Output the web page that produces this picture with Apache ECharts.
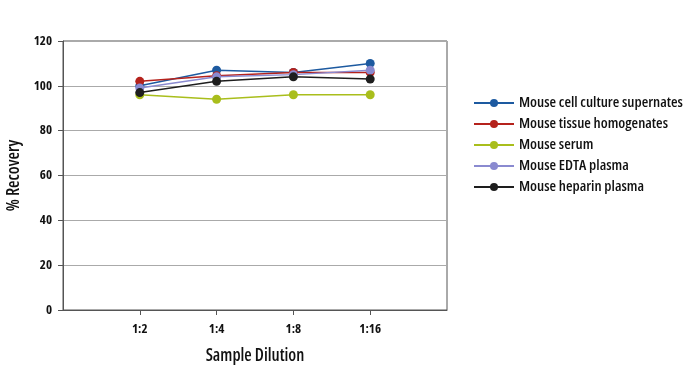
<!DOCTYPE html>
<html><head><meta charset="utf-8">
<script src="https://cdn.jsdelivr.net/npm/echarts@6/dist/echarts.min.js"></script>
<style>html,body{margin:0;padding:0;background:#fff}#c{width:694px;height:372px}</style>
</head><body><div id="c"></div>
<script>
const categories = ["", "1:2", "1:4", "1:8", "1:16", ""];
const seriesNames = ["Mouse cell culture supernates", "Mouse tissue homogenates", "Mouse serum", "Mouse EDTA plasma", "Mouse heparin plasma"];
const cellCulture = [null, 100, 107, 106, 110, null];
const tissue = [null, 102, 104.5, 106, 106, null];
const serum = [null, 96, 94, 96, 96, null];
const edta = [null, 99, 104, 105, 107, null];
const heparin = [null, 97, 102, 104, 103, null];
const yTicks = [0, 20, 40, 60, 80, 100, 120];
const colors = ["#1d5aa0", "#b5221c", "#a9be1c", "#8a8ad0", "#1e1e1e"];
const values = [cellCulture, tissue, serum, edta, heparin];
const font = "'Open Sans', sans-serif";
const W = '600 condensed';
const WB = 'bold condensed';
const chart = echarts.init(document.getElementById('c'));
chart.setOption({
  animation: false,
  color: colors,
  grid: {left: 63, right: 247, top: 41, bottom: 62, show: true, borderColor: '#555', borderWidth: 1, outerBoundsMode: 'none', containLabel: false},
  legend: {
    orient: 'vertical', left: 468, top: 90, itemGap: 5, itemWidth: 40, itemHeight: 10,
    textStyle: {fontFamily: font, fontSize: 15, fontWeight: W, color: '#111', lineHeight: 16},
    data: seriesNames
  },
  xAxis: {
    type: 'category', data: categories, boundaryGap: false,
    axisLine: {lineStyle: {color: '#555'}},
    axisTick: {show: true, length: 5, lineStyle: {color: '#555'}, interval: (i) => i > 0 && i < categories.length - 1},
    axisLabel: {fontFamily: font, fontSize: 13, fontWeight: WB, color: '#111', margin: 13, interval: 0},
    name: 'Sample Dilution', nameLocation: 'middle', nameGap: 38,
    nameTextStyle: {fontFamily: font, fontSize: 17, fontWeight: W, color: '#111'}
  },
  yAxis: {
    type: 'value', min: yTicks[0], max: yTicks[yTicks.length - 1], interval: 20,
    axisLine: {show: true, lineStyle: {color: '#555'}},
    axisTick: {show: true, length: 5, lineStyle: {color: '#555'}},
    splitLine: {lineStyle: {color: '#aaa'}},
    axisLabel: {fontFamily: font, fontSize: 13, fontWeight: WB, color: '#111', margin: 11},
    name: '% Recovery', nameLocation: 'middle', nameGap: 40,
    nameTextStyle: {fontFamily: font, fontSize: 17, fontWeight: W, color: '#111'}
  },
  series: seriesNames.map((n, i) => ({
    name: n, type: 'line', data: values[i], symbol: 'circle', symbolSize: 9,
    lineStyle: {width: 1.5}, itemStyle: {color: colors[i]}
  }))
});
</script></body></html>
